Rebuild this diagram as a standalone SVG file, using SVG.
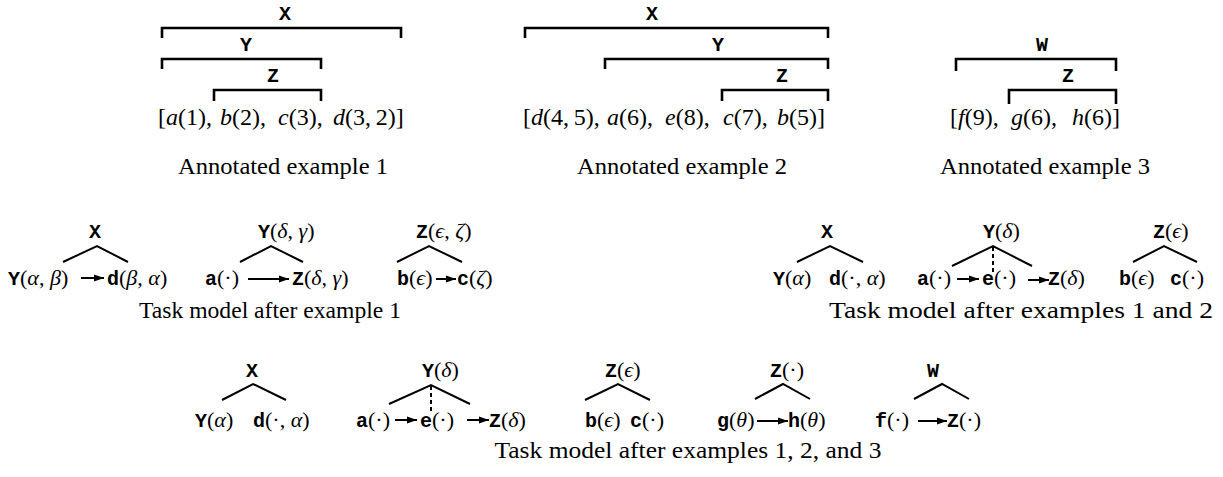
<svg xmlns="http://www.w3.org/2000/svg" width="1223" height="477" viewBox="0 0 1223 477">
<style>
text { font-family: "Liberation Serif", "DejaVu Serif", serif; font-size: 22px; fill: #000; }
.fm { font-size: 24px; }
.tt { font-family: "Liberation Mono", "DejaVu Sans Mono", monospace; font-weight: bold; font-size: 20px; }
.mi { font-style: italic; }
.lbl { font-family: "Liberation Mono", "DejaVu Sans Mono", monospace; font-weight: bold; font-size: 20px; text-anchor: middle; }
.cap { font-size: 23px; text-anchor: middle; }
.br { fill: none; stroke: #000; stroke-width: 2.6; }
.tl { fill: none; stroke: #000; stroke-width: 2; }
.dl { fill: none; stroke: #000; stroke-width: 2; stroke-dasharray: 4 3; }
.ar { fill: none; stroke: #000; stroke-width: 2; marker-end: url(#ah); }
</style>
<defs>
<marker id="ah" markerWidth="11" markerHeight="8" refX="10" refY="4" orient="auto" markerUnits="userSpaceOnUse">
<path d="M0,0.5 L10,4 L0,7.5 z" fill="#000"/>
</marker>
</defs>

<!-- Annotated example 1 -->
<g id="ex1">
<path class="br" d="M162,38 V28 H401 V38"/>
<text class="lbl" x="285" y="20">X</text>
<path class="br" d="M162,69 V59 H321 V69"/>
<text class="lbl" x="246" y="51">Y</text>
<path class="br" d="M214,101 V90 H321 V101"/>
<text class="lbl" x="273" y="82">Z</text>
<text class="fm" y="125"><tspan x="158">[</tspan><tspan class="mi">a</tspan>(1),<tspan x="220" class="mi">b</tspan>(2),<tspan x="278" class="mi">c</tspan>(3),<tspan x="333" class="mi">d</tspan>(3,&#8201;2)]</text>
<text class="cap" x="283" y="174" textLength="210" lengthAdjust="spacingAndGlyphs">Annotated example 1</text>
</g>

<!-- Annotated example 2 -->
<g id="ex2">
<path class="br" d="M525,38 V28 H828 V38"/>
<text class="lbl" x="652" y="20">X</text>
<path class="br" d="M605,69 V59 H828 V69"/>
<text class="lbl" x="718" y="51">Y</text>
<path class="br" d="M722,101 V90 H828 V101"/>
<text class="lbl" x="782" y="82">Z</text>
<text class="fm" y="125"><tspan x="523">[</tspan><tspan class="mi">d</tspan>(4,&#8201;5),<tspan x="607" class="mi">a</tspan>(6),<tspan x="665" class="mi">e</tspan>(8),<tspan x="723" class="mi">c</tspan>(7),<tspan x="777" class="mi">b</tspan>(5)]</text>
<text class="cap" x="682" y="174" textLength="210" lengthAdjust="spacingAndGlyphs">Annotated example 2</text>
</g>

<!-- Annotated example 3 -->
<g id="ex3">
<path class="br" d="M956,71 V59 H1116 V71"/>
<text class="lbl" x="1042" y="51">W</text>
<path class="br" d="M1009,104 V90 H1116 V104"/>
<text class="lbl" x="1068" y="82">Z</text>
<text class="fm" y="125"><tspan x="950">[</tspan><tspan class="mi">f</tspan>(9),<tspan x="1011" class="mi">g</tspan>(6),<tspan x="1072" class="mi">h</tspan>(6)]</text>
<text class="cap" x="1045" y="174" textLength="210" lengthAdjust="spacingAndGlyphs">Annotated example 3</text>
</g>

<!-- Task model after example 1 -->
<g id="m1-X"><text class="lbl" x="95" y="238">X</text></g>
<g id="m1-Ya"><text y="285" x="8"><tspan class="tt">Y</tspan>(<tspan class="mi">α</tspan>, <tspan class="mi">β</tspan>)</text></g>
<g id="m1-d"><text y="285" x="107"><tspan class="tt">d</tspan>(<tspan class="mi">β</tspan>, <tspan class="mi">α</tspan>)</text></g>
<g id="m1-Y"><text y="238" x="258"><tspan class="tt">Y</tspan>(<tspan class="mi">δ</tspan>, <tspan class="mi">γ</tspan>)</text></g>
<g id="m1-a"><text y="285" x="205"><tspan class="tt">a</tspan>(·)</text></g>
<g id="m1-Zd"><text y="285" x="292"><tspan class="tt">Z</tspan>(<tspan class="mi">δ</tspan>, <tspan class="mi">γ</tspan>)</text></g>
<g id="m1-Z"><text y="238" x="416"><tspan class="tt">Z</tspan>(<tspan class="mi">ϵ</tspan>, <tspan class="mi">ζ</tspan>)</text></g>
<g id="m1-b"><text y="285" x="397"><tspan class="tt">b</tspan>(<tspan class="mi">ϵ</tspan>)</text></g>
<g id="m1-c"><text y="285" x="457"><tspan class="tt">c</tspan>(<tspan class="mi">ζ</tspan>)</text></g>
<text class="cap" x="270" y="318" textLength="262" lengthAdjust="spacingAndGlyphs">Task model after example 1</text>

<!-- Task model after examples 1 and 2 -->
<g id="m2-X"><text class="lbl" x="827" y="238">X</text></g>
<g id="m2-Ya"><text y="285" x="773"><tspan class="tt">Y</tspan>(<tspan class="mi">α</tspan>)</text></g>
<g id="m2-d"><text y="285" x="829"><tspan class="tt">d</tspan>(·, <tspan class="mi">α</tspan>)</text></g>
<g id="m2-Y"><text y="238" x="983"><tspan class="tt">Y</tspan>(<tspan class="mi">δ</tspan>)</text></g>
<g id="m2-a"><text y="285" x="917"><tspan class="tt">a</tspan>(·)</text></g>
<g id="m2-e"><text y="285" x="982"><tspan class="tt">e</tspan>(·)</text></g>
<g id="m2-Zd"><text y="285" x="1048"><tspan class="tt">Z</tspan>(<tspan class="mi">δ</tspan>)</text></g>
<g id="m2-Z"><text y="238" x="1153"><tspan class="tt">Z</tspan>(<tspan class="mi">ϵ</tspan>)</text></g>
<g id="m2-b"><text y="285" x="1119"><tspan class="tt">b</tspan>(<tspan class="mi">ϵ</tspan>)</text></g>
<g id="m2-c"><text y="285" x="1170"><tspan class="tt">c</tspan>(·)</text></g>
<text class="cap" x="1021" y="318" textLength="384" lengthAdjust="spacingAndGlyphs">Task model after examples 1 and 2</text>

<!-- Task model after examples 1, 2, and 3 -->
<g id="m3-X"><text class="lbl" x="252" y="377">X</text></g>
<g id="m3-Ya"><text y="427" x="195"><tspan class="tt">Y</tspan>(<tspan class="mi">α</tspan>)</text></g>
<g id="m3-d"><text y="427" x="253"><tspan class="tt">d</tspan>(·, <tspan class="mi">α</tspan>)</text></g>
<g id="m3-Y"><text y="377" x="422"><tspan class="tt">Y</tspan>(<tspan class="mi">δ</tspan>)</text></g>
<g id="m3-a"><text y="427" x="356"><tspan class="tt">a</tspan>(·)</text></g>
<g id="m3-e"><text y="427" x="420"><tspan class="tt">e</tspan>(·)</text></g>
<g id="m3-Zd"><text y="427" x="489"><tspan class="tt">Z</tspan>(<tspan class="mi">δ</tspan>)</text></g>
<g id="m3-Ze"><text y="377" x="605"><tspan class="tt">Z</tspan>(<tspan class="mi">ϵ</tspan>)</text></g>
<g id="m3-b"><text y="427" x="585"><tspan class="tt">b</tspan>(<tspan class="mi">ϵ</tspan>)</text></g>
<g id="m3-c"><text y="427" x="630"><tspan class="tt">c</tspan>(·)</text></g>
<g id="m3-Zp"><text y="377" x="770"><tspan class="tt">Z</tspan>(·)</text></g>
<g id="m3-g"><text y="427" x="717"><tspan class="tt">g</tspan>(<tspan class="mi">θ</tspan>)</text></g>
<g id="m3-h"><text y="427" x="788"><tspan class="tt">h</tspan>(<tspan class="mi">θ</tspan>)</text></g>
<g id="m3-W"><text class="lbl" x="933" y="377">W</text></g>
<g id="m3-f"><text y="427" x="875"><tspan class="tt">f</tspan>(·)</text></g>
<g id="m3-Z"><text y="427" x="947"><tspan class="tt">Z</tspan>(·)</text></g>
<text class="cap" x="688" y="458" textLength="387" lengthAdjust="spacingAndGlyphs">Task model after examples 1, 2, and 3</text>

<g id="connectors">
<!-- row 1 left -->
<path class="tl" d="M63,262 L97,246 L128,262"/>
<line class="ar" x1="81" y1="278" x2="104" y2="278"/>
<path class="tl" d="M240,262 L271,246 L303,262"/>
<line class="ar" x1="248" y1="279" x2="289" y2="279"/>
<path class="tl" d="M397,262 L429,246 L462,262"/>
<line class="ar" x1="436" y1="279" x2="456" y2="279"/>
<!-- row 1 right -->
<path class="tl" d="M797,262 L830,246 L863,262"/>
<path class="tl" d="M952,266 L993,246 L1032,266"/>
<line class="dl" x1="993" y1="247" x2="993" y2="272"/>
<line class="ar" x1="957" y1="279" x2="979" y2="279"/>
<line class="ar" x1="1028" y1="280" x2="1049" y2="280"/>
<path class="tl" d="M1133,262 L1164,246 L1197,262"/>
<!-- row 3 -->
<path class="tl" d="M222,400 L253,384 L286,400"/>
<path class="tl" d="M389,404 L431,385 L470,404"/>
<line class="dl" x1="431" y1="386" x2="431" y2="413"/>
<line class="ar" x1="395" y1="420" x2="417" y2="420"/>
<line class="ar" x1="467" y1="420" x2="489" y2="420"/>
<path class="tl" d="M585,400 L618,384 L650,400"/>
<path class="tl" d="M755,399 L783,384 L810,399"/>
<line class="ar" x1="757" y1="421" x2="788" y2="421"/>
<path class="tl" d="M914,399 L942,384 L969,399"/>
<line class="ar" x1="918" y1="421" x2="947" y2="421"/>
</g>
</svg>
